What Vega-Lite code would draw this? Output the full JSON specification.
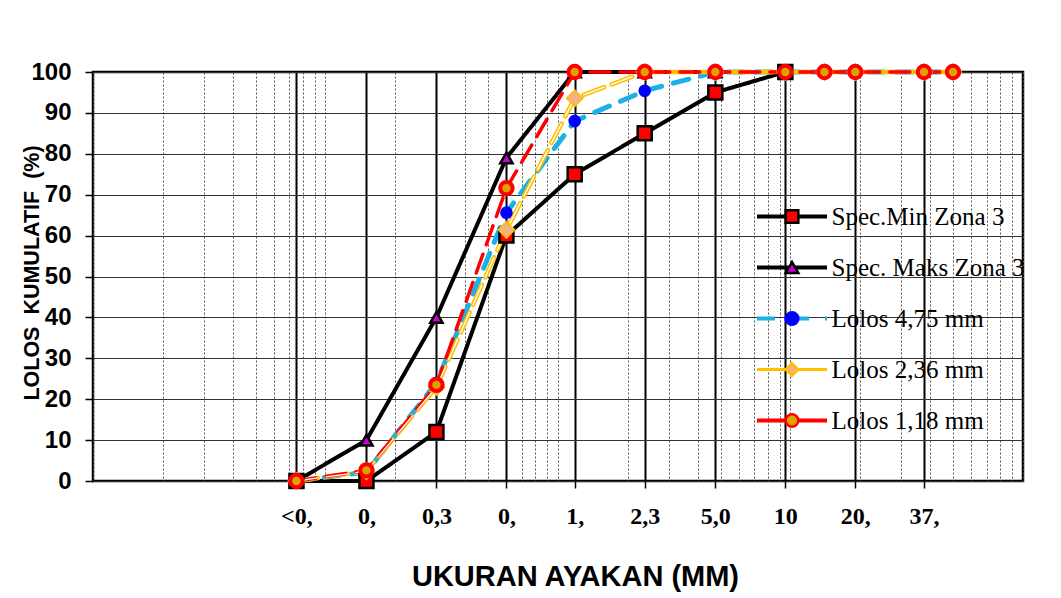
{
  "$schema": "https://vega.github.io/schema/vega-lite/v6.json",
  "width": 930,
  "height": 409,
  "autosize": {"type": "none"},
  "padding": {"left": 93, "top": 72, "right": 38, "bottom": 117},
  "background": "white",
  "config": {
    "view": {"stroke": "black", "strokeWidth": 2.5},
    "font": "Liberation Sans",
    "axis": {"labelColor": "black", "titleColor": "black"}
  },
  "data": {
    "values": [
      {"series": "Spec.Min Zona 3", "ukuran": 0.075, "lolos": 0},
      {"series": "Spec.Min Zona 3", "ukuran": 0.15, "lolos": 0},
      {"series": "Spec.Min Zona 3", "ukuran": 0.3, "lolos": 12},
      {"series": "Spec.Min Zona 3", "ukuran": 0.6, "lolos": 60},
      {"series": "Spec.Min Zona 3", "ukuran": 1.18, "lolos": 75},
      {"series": "Spec.Min Zona 3", "ukuran": 2.36, "lolos": 85},
      {"series": "Spec.Min Zona 3", "ukuran": 4.75, "lolos": 95},
      {"series": "Spec.Min Zona 3", "ukuran": 9.5, "lolos": 100},
      {"series": "Spec. Maks Zona 3", "ukuran": 0.075, "lolos": 0},
      {"series": "Spec. Maks Zona 3", "ukuran": 0.15, "lolos": 10},
      {"series": "Spec. Maks Zona 3", "ukuran": 0.3, "lolos": 40},
      {"series": "Spec. Maks Zona 3", "ukuran": 0.6, "lolos": 79},
      {"series": "Spec. Maks Zona 3", "ukuran": 1.18, "lolos": 100},
      {"series": "Spec. Maks Zona 3", "ukuran": 2.36, "lolos": 100},
      {"series": "Spec. Maks Zona 3", "ukuran": 4.75, "lolos": 100},
      {"series": "Spec. Maks Zona 3", "ukuran": 9.5, "lolos": 100},
      {"series": "Lolos 4,75 mm", "ukuran": 0.075, "lolos": 0},
      {"series": "Lolos 4,75 mm", "ukuran": 0.15, "lolos": 2.2},
      {"series": "Lolos 4,75 mm", "ukuran": 0.3, "lolos": 24},
      {"series": "Lolos 4,75 mm", "ukuran": 0.6, "lolos": 65.6},
      {"series": "Lolos 4,75 mm", "ukuran": 1.18, "lolos": 88},
      {"series": "Lolos 4,75 mm", "ukuran": 2.36, "lolos": 95.4},
      {"series": "Lolos 4,75 mm", "ukuran": 4.75, "lolos": 100},
      {"series": "Lolos 4,75 mm", "ukuran": 9.5, "lolos": 100},
      {"series": "Lolos 4,75 mm", "ukuran": 14, "lolos": 100},
      {"series": "Lolos 4,75 mm", "ukuran": 19, "lolos": 100},
      {"series": "Lolos 4,75 mm", "ukuran": 37.5, "lolos": 100},
      {"series": "Lolos 4,75 mm", "ukuran": 50, "lolos": 100},
      {"series": "Lolos 2,36 mm", "ukuran": 0.075, "lolos": 0},
      {"series": "Lolos 2,36 mm", "ukuran": 0.15, "lolos": 2.4},
      {"series": "Lolos 2,36 mm", "ukuran": 0.3, "lolos": 23},
      {"series": "Lolos 2,36 mm", "ukuran": 0.6, "lolos": 61.4},
      {"series": "Lolos 2,36 mm", "ukuran": 1.18, "lolos": 93.6},
      {"series": "Lolos 2,36 mm", "ukuran": 2.36, "lolos": 100},
      {"series": "Lolos 2,36 mm", "ukuran": 4.75, "lolos": 100},
      {"series": "Lolos 2,36 mm", "ukuran": 9.5, "lolos": 100},
      {"series": "Lolos 2,36 mm", "ukuran": 14, "lolos": 100},
      {"series": "Lolos 2,36 mm", "ukuran": 19, "lolos": 100},
      {"series": "Lolos 2,36 mm", "ukuran": 37.5, "lolos": 100},
      {"series": "Lolos 2,36 mm", "ukuran": 50, "lolos": 100},
      {"series": "Lolos 1,18 mm", "ukuran": 0.075, "lolos": 0},
      {"series": "Lolos 1,18 mm", "ukuran": 0.15, "lolos": 2.6},
      {"series": "Lolos 1,18 mm", "ukuran": 0.3, "lolos": 23.5},
      {"series": "Lolos 1,18 mm", "ukuran": 0.6, "lolos": 71.6},
      {"series": "Lolos 1,18 mm", "ukuran": 1.18, "lolos": 100},
      {"series": "Lolos 1,18 mm", "ukuran": 2.36, "lolos": 100},
      {"series": "Lolos 1,18 mm", "ukuran": 4.75, "lolos": 100},
      {"series": "Lolos 1,18 mm", "ukuran": 9.5, "lolos": 100},
      {"series": "Lolos 1,18 mm", "ukuran": 14, "lolos": 100},
      {"series": "Lolos 1,18 mm", "ukuran": 19, "lolos": 100},
      {"series": "Lolos 1,18 mm", "ukuran": 37.5, "lolos": 100},
      {"series": "Lolos 1,18 mm", "ukuran": 50, "lolos": 100}
    ]
  },
  "encoding": {
    "y": {
      "field": "lolos",
      "type": "quantitative",
      "scale": {"domain": [0, 100], "nice": false, "zero": true},
      "axis": {
        "title": "LOLOS\u00a0 KUMULATIF\u00a0 (%)",
        "values": [0, 10, 20, 30, 40, 50, 60, 70, 80, 90, 100],
        "grid": true,
        "gridColor": "#333333",
        "gridWidth": 1.2,
        "domain": false,
        "ticks": true,
        "tickSize": 8,
        "tickColor": "black",
        "tickWidth": 1.5,
        "labelFont": "Liberation Sans",
        "labelFontWeight": "bold",
        "labelFontSize": 24,
        "labelPadding": 14,
        "labelFlush": false,
        "labelOverlap": false,
        "titleFont": "Liberation Sans",
        "titleFontWeight": "bold",
        "titleFontSize": 21.5,
        "titleAngle": -90,
        "titleX": -60.5,
        "titleY": 200.5,
        "titleAlign": "center",
        "titleBaseline": "middle"
      }
    }
  },
  "layer": [
    {
      "mark": {"type": "line", "strokeCap": "round", "clip": false},
      "encoding": {
        "x": {
          "field": "ukuran",
          "type": "quantitative",
          "scale": {"type": "log", "domain": [0.01, 100], "nice": false},
          "axis": {
            "orient": "bottom",
            "values": [0.01, 0.02, 0.03, 0.04, 0.05, 0.06, 0.07, 0.08, 0.09, 0.1, 0.2, 0.3, 0.4, 0.5, 0.6, 0.7, 0.8, 0.9, 1, 2, 3, 4, 5, 6, 7, 8, 9, 10, 20, 30, 40, 50, 60, 70, 80, 90, 100],
            "grid": true,
            "gridColor": "#555555",
            "gridWidth": 1,
            "gridDash": [2, 2],
            "ticks": false,
            "labels": false,
            "domain": false,
            "title": null
          }
        },
        "color": {
          "field": "series",
          "type": "nominal",
          "scale": {
            "domain": ["Spec.Min Zona 3", "Spec. Maks Zona 3", "Lolos 4,75 mm", "Lolos 2,36 mm", "Lolos 1,18 mm"],
            "range": ["#000000", "#000000", "#1cb0e8", "#ffc000", "#ff0000"]
          },
          "legend": {
            "orient": "none", "legendX": 664, "legendY": 132, "title": null,
            "symbolType": "M-5,0H5", "symbolSize": 196, "symbolStrokeWidth": 4,
            "symbolOffset": 22.5, "labelOffset": 27, "padding": 0,
            "labelFont": "Liberation Serif", "labelFontSize": 25, "labelColor": "black",
            "labelLimit": 400, "rowPadding": 25,
            "encode": {"symbols": {"update": {
              "strokeWidth": {"signal": "datum.value == 'Lolos 2,36 mm' ? 3 : 4"},
              "strokeDash": {"signal": "datum.value == 'Lolos 4,75 mm' ? [18, 16] : [1, 0]"}
            }}}
          }
        },
        "strokeDash": {
          "condition": [
            {"test": "datum.series == 'Lolos 4,75 mm'", "value": [16, 12]},
            {"test": "datum.series == 'Lolos 2,36 mm'", "value": [22, 8]},
            {"test": "datum.series == 'Lolos 1,18 mm'", "value": [20, 10]}
          ],
          "value": [1, 0]
        },
        "strokeWidth": {
          "condition": [
            {"test": "datum.series == 'Lolos 4,75 mm'", "value": 5},
            {"test": "datum.series == 'Lolos 2,36 mm'", "value": 4.5},
            {"test": "datum.series == 'Lolos 1,18 mm'", "value": 3.5}
          ],
          "value": 4
        }
      }
    },
    {
      "transform": [{"filter": "datum.series == 'Lolos 2,36 mm' && datum.ukuran <= 2.36"}],
      "mark": {"type": "line", "color": "white", "strokeWidth": 1.3, "strokeDash": [22, 8], "strokeCap": "round", "clip": false},
      "encoding": {
        "x": {"field": "ukuran", "type": "quantitative", "axis": null}
      }
    },
    {
      "mark": {"type": "point", "opacity": 1, "fillOpacity": 1, "clip": false},
      "encoding": {
        "x": {
          "field": "ukuran",
          "type": "quantitative",
          "axis": {
            "orient": "bottom",
            "values": [0.075, 0.15, 0.3, 0.6, 1.18, 2.36, 4.75, 9.5, 19, 37.5],
            "labelExpr": "datum.value < 0.1 ? '<0,' : datum.value < 0.2 ? '0,' : datum.value < 0.4 ? '0,3' : datum.value < 1 ? '0,' : datum.value < 2 ? '1,' : datum.value < 3 ? '2,3' : datum.value < 6 ? '5,0' : datum.value < 12 ? '10' : datum.value < 25 ? '20,' : '37,'",
            "grid": true,
            "gridColor": "black",
            "gridWidth": 2,
            "domain": false,
            "ticks": true,
            "tickSize": 7,
            "tickColor": "black",
            "tickWidth": 1.5,
            "labelFont": "Liberation Serif",
            "labelFontWeight": "bold",
            "labelFontSize": 24,
            "labelPadding": 16,
            "labelOverlap": false,
            "labelFlush": false,
            "title": "UKURAN AYAKAN (MM)",
            "titleFont": "Liberation Sans",
            "titleFontWeight": "bold",
            "titleFontSize": 29,
            "titleX": 482,
            "titleY": 95,
            "titleAlign": "center",
            "titleBaseline": "middle"
          }
        },
        "shape": {
          "field": "series", "type": "nominal", "sort": null,
          "scale": {"range": ["square", "triangle-up", "circle", "diamond", "circle"]},
          "legend": {
            "orient": "none", "legendX": 664, "legendY": 132, "title": null,
            "symbolSize": 160, "symbolStrokeWidth": 2.5, "symbolOpacity": 1,
            "symbolOffset": 22.5, "labelOffset": 27, "padding": 0,
            "labelFont": "Liberation Serif", "labelFontSize": 25, "labelOpacity": 0,
            "labelLimit": 400, "rowPadding": 25,
            "encode": {"symbols": {"update": {
              "strokeWidth": {"signal": "datum.value == 'Lolos 4,75 mm' ? 0 : datum.value == 'Lolos 1,18 mm' ? 3.5 : datum.value == 'Lolos 2,36 mm' ? 1.5 : 2.5"},
              "size": {"signal": "datum.value == 'Spec.Min Zona 3' ? 170 : datum.value == 'Spec. Maks Zona 3' ? 140 : datum.value == 'Lolos 4,75 mm' ? 140 : datum.value == 'Lolos 2,36 mm' ? 200 : 120"}
            }}}
          }
        },
        "fill": {
          "field": "series", "type": "nominal", "sort": null,
          "scale": {"range": ["#ff0000", "#cc00cc", "#0000ff", "#f4b183", "#dca200"]},
          "legend": {
            "orient": "none", "legendX": 664, "legendY": 132, "title": null,
            "symbolSize": 160, "symbolStrokeWidth": 2.5, "symbolOpacity": 1,
            "symbolOffset": 22.5, "labelOffset": 27, "padding": 0,
            "labelFont": "Liberation Serif", "labelFontSize": 25, "labelOpacity": 0,
            "labelLimit": 400, "rowPadding": 25
          }
        },
        "stroke": {
          "field": "series", "type": "nominal", "sort": null,
          "scale": {"range": ["#000000", "#000000", "#0000ff", "#ffc000", "#ff0000"]},
          "legend": {
            "orient": "none", "legendX": 664, "legendY": 132, "title": null,
            "symbolSize": 160, "symbolStrokeWidth": 2.5, "symbolOpacity": 1,
            "symbolOffset": 22.5, "labelOffset": 27, "padding": 0,
            "labelFont": "Liberation Serif", "labelFontSize": 25, "labelOpacity": 0,
            "labelLimit": 400, "rowPadding": 25
          }
        },
        "strokeWidth": {
          "condition": [
            {"test": "datum.series == 'Lolos 4,75 mm'", "value": 0},
            {"test": "datum.series == 'Lolos 2,36 mm'", "value": 1.5},
            {"test": "datum.series == 'Lolos 1,18 mm'", "value": 4}
          ],
          "value": 2.5
        },
        "size": {
          "condition": [
            {"test": "datum.series == 'Spec.Min Zona 3'", "value": 196},
            {"test": "datum.series == 'Spec. Maks Zona 3'", "value": 150},
            {"test": "datum.series == 'Lolos 4,75 mm'", "value": 160},
            {"test": "datum.series == 'Lolos 2,36 mm'", "value": 270}
          ],
          "value": 154
        }
      }
    }
  ],
  "resolve": {"axis": {"x": "independent"}}
}
